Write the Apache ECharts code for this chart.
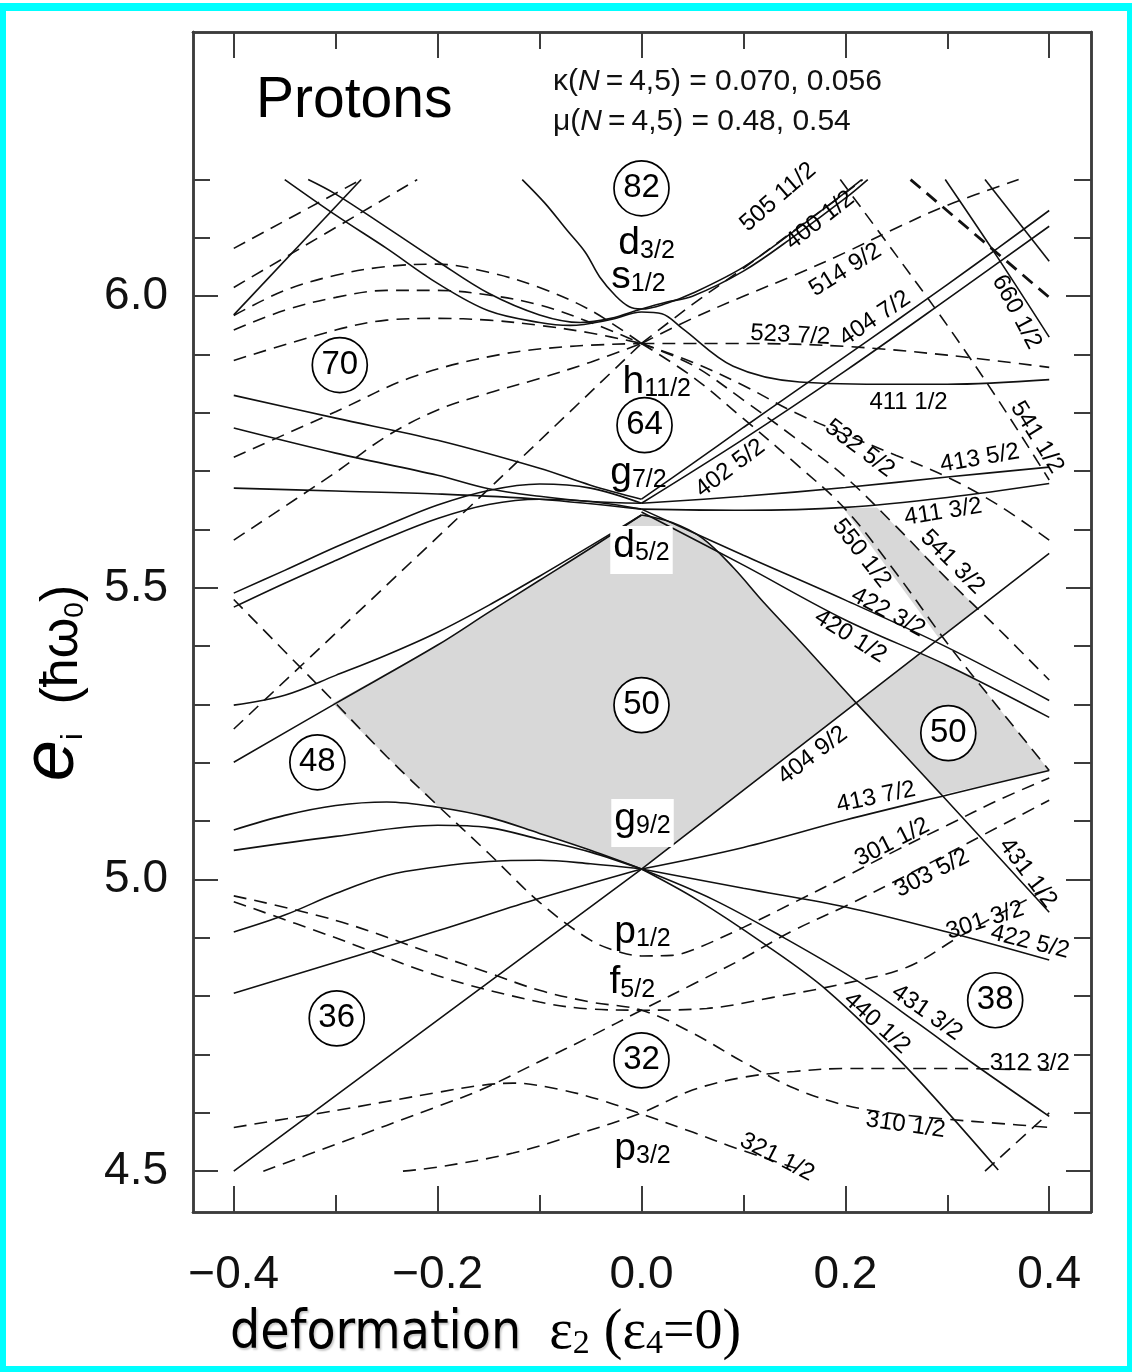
<!DOCTYPE html>
<html>
<head>
<meta charset="utf-8">
<script src="https://cdn.jsdelivr.net/npm/echarts@6/dist/echarts.min.js"></script>
<style>
html, body { margin: 0; padding: 0; background: #fff; }
#wrap { position: relative; width: 1132px; height: 1372px; overflow: hidden; }
#chart { position: absolute; left: 0; top: 0; width: 1132px; height: 1372px; }
#edge { position: absolute; left: 0; top: 3px; width: 1121px; height: 1355px;
        border-style: solid; border-color: #00ffff; border-width: 8px 5px 6px 6px; pointer-events: none; }
</style>
</head>
<body>
<div id="wrap"><div id="chart"></div><div id="edge"></div></div>
<script>
// ---- axis extent and tick positions ----
const X_MIN = -0.44, X_MAX = 0.441, Y_MIN = 4.43, Y_MAX = 6.453;
const xMajorTicks = [-0.4, -0.2, 0, 0.2, 0.4];
const xMinorTicks = [-0.3, -0.1, 0.1, 0.3];
const yMajorTicks = [4.5, 5.0, 5.5, 6.0];
const yMinorTicks = [4.6, 4.7, 4.8, 4.9, 5.1, 5.2, 5.3, 5.4, 5.6, 5.7, 5.8, 5.9, 6.1, 6.2];

// ---- single-particle levels, [eps2, e] ; positive parity (N even) ----
const lvl400_12 = [[-0.117,6.2],[-0.095,6.16],[-0.073,6.113],[-0.055,6.075],[-0.041,6.033],[-0.025,6.0],[-0.012,5.982],[0,5.978],[0.025,5.988],[0.05,6.005],[0.1,6.05],[0.15,6.112],[0.2,6.178],[0.216,6.2]];
const lvl411_12 = [[-0.35,6.2],[-0.3,6.139],[-0.25,6.082],[-0.2,6.022],[-0.15,5.975],[-0.1,5.955],[-0.07,5.95],[-0.03,5.96],[0,5.973],[0.02,5.97],[0.04,5.945],[0.09,5.88],[0.155,5.853],[0.25,5.849],[0.3,5.849],[0.4,5.857]];
const lvlS12b   = [[-0.327,6.2],[-0.3,6.175],[-0.25,6.118],[-0.2,6.06],[-0.15,6.005],[-0.1,5.968],[-0.06,5.955],[-0.03,5.962],[0,5.978],[0.025,5.99],[0.05,6.0],[0.1,6.043],[0.15,6.103],[0.2,6.168],[0.222,6.2]];
const lvlRise   = [[-0.4,5.968],[-0.275,6.2]];
const lvl660_12 = [[0.298,6.2],[0.35,6.065],[0.4,5.93]];
const lvl651_32 = [[0.337,6.2],[0.4,6.06]];
const lvl404_72 = [[0,5.652],[0.05,5.713],[0.1,5.775],[0.15,5.836],[0.2,5.897],[0.25,5.958],[0.3,6.02],[0.35,6.083],[0.4,6.147]];
const lvl402_52 = [[0,5.645],[0.1,5.755],[0.2,5.872],[0.3,5.995],[0.4,6.12]];
const lvl413_52 = [[0,5.645],[0.1,5.657],[0.2,5.672],[0.3,5.69],[0.4,5.707]];
const lvl411_32 = [[0,5.635],[0.1,5.633],[0.2,5.638],[0.3,5.655],[0.4,5.679]];
const lvl422_32 = [[0,5.635],[0.1,5.556],[0.2,5.479],[0.3,5.398],[0.4,5.307]];
const lvl420_12 = [[0,5.63],[0.1,5.539],[0.2,5.445],[0.3,5.367],[0.4,5.278]];
const lvl431_12 = [[0,5.625],[0.03,5.612],[0.06,5.585],[0.09,5.535],[0.12,5.475],[0.16,5.4],[0.211,5.302],[0.293,5.148],[0.4,4.944]];
const lvlG7a    = [[-0.4,5.83],[-0.3,5.791],[-0.2,5.753],[-0.1,5.705],[-0.05,5.676],[0,5.652]];
const lvlG7b    = [[-0.4,5.774],[-0.3,5.731],[-0.2,5.693],[-0.15,5.67],[-0.1,5.657],[-0.05,5.648],[0,5.645]];
const lvlG7c    = [[-0.4,5.671],[-0.3,5.666],[-0.2,5.661],[-0.1,5.652],[0,5.635]];
const lvlG7d    = [[-0.4,5.491],[-0.35,5.53],[-0.3,5.57],[-0.25,5.607],[-0.2,5.642],[-0.15,5.667],[-0.1,5.678],[-0.05,5.671],[0,5.645]];
const lvlG7e    = [[-0.4,5.467],[-0.35,5.508],[-0.3,5.547],[-0.25,5.585],[-0.2,5.619],[-0.15,5.643],[-0.1,5.652],[-0.05,5.648],[0,5.635]];
const lvlD5a    = [[-0.4,5.201],[-0.3,5.302],[-0.2,5.402],[-0.15,5.458],[-0.1,5.513],[-0.05,5.568],[0,5.625]];
const lvlD5b    = [[-0.4,5.299],[-0.35,5.316],[-0.3,5.35],[-0.25,5.385],[-0.2,5.424],[-0.15,5.47],[-0.1,5.52],[-0.05,5.572],[0,5.625]];
const lvl404_92 = [[-0.4,4.5],[0,5.018],[0.4,5.559]];
const lvl413_72 = [[0,5.018],[0.1,5.055],[0.2,5.102],[0.3,5.145],[0.4,5.187]];
const lvl422_52 = [[0,5.018],[0.1,4.985],[0.2,4.953],[0.3,4.91],[0.4,4.862]];
const lvl431_32 = [[0,5.018],[0.07,4.966],[0.14,4.9],[0.211,4.827],[0.27,4.755],[0.325,4.685],[0.4,4.594]];
const lvl440_12 = [[0,5.018],[0.054,4.966],[0.12,4.89],[0.182,4.81],[0.26,4.678],[0.35,4.502]];
const lvlG9a    = [[-0.4,5.085],[-0.35,5.11],[-0.3,5.127],[-0.25,5.133],[-0.2,5.124],[-0.15,5.107],[-0.1,5.079],[-0.05,5.05],[0,5.018]];
const lvlG9b    = [[-0.4,5.05],[-0.3,5.074],[-0.2,5.093],[-0.15,5.089],[-0.1,5.069],[-0.05,5.047],[0,5.018]];
const lvlG9c    = [[-0.4,4.91],[-0.35,4.939],[-0.3,4.976],[-0.25,5.007],[-0.2,5.022],[-0.15,5.031],[-0.1,5.033],[-0.05,5.027],[0,5.018]];
const lvlG9d    = [[-0.4,4.805],[-0.2,4.912],[-0.107,4.964],[0,5.018]];

// ---- negative parity (N odd) ----
const lvl505_112 = [[0,5.919],[0.05,5.986],[0.1,6.048],[0.15,6.113],[0.2,6.177],[0.217,6.2]];
const lvl514_92  = [[0,5.919],[0.05,5.962],[0.1,6.0],[0.15,6.036],[0.2,6.075],[0.25,6.117],[0.3,6.156],[0.37,6.2]];
const lvl523_72  = [[0,5.919],[0.1,5.919],[0.2,5.914],[0.3,5.899],[0.4,5.878]];
const lvl532_52  = [[0,5.919],[0.05,5.887],[0.1,5.847],[0.15,5.801],[0.2,5.763],[0.25,5.727],[0.3,5.69],[0.35,5.642],[0.4,5.582]];
const lvl541_32  = [[0,5.919],[0.05,5.882],[0.1,5.822],[0.15,5.758],[0.2,5.69],[0.25,5.605],[0.3,5.515],[0.35,5.43],[0.4,5.342]];
const lvl550_12  = [[0,5.919],[0.05,5.862],[0.1,5.79],[0.15,5.715],[0.2,5.635],[0.25,5.525],[0.3,5.405],[0.35,5.295],[0.4,5.187]];
const lvl541_12  = [[0.195,6.2],[0.25,6.07],[0.3,5.95],[0.35,5.822],[0.4,5.685]];
const lvl530_12  = [[0.264,6.2],[0.4,5.998]];
const lvlH11a    = [[-0.4,5.258],[-0.14,5.686],[0,5.919]];
const lvlH11b    = [[-0.4,5.582],[-0.3,5.698],[-0.25,5.76],[-0.2,5.805],[-0.15,5.834],[-0.1,5.859],[-0.05,5.887],[0,5.919]];
const lvlH11c    = [[-0.4,5.724],[-0.3,5.802],[-0.224,5.862],[-0.139,5.9],[-0.07,5.914],[0,5.919]];
const lvlH11d    = [[-0.4,5.967],[-0.35,6.01],[-0.3,6.036],[-0.25,6.051],[-0.2,6.055],[-0.15,6.041],[-0.1,6.015],[-0.05,5.976],[0,5.919]];
const lvlH11e    = [[-0.4,5.942],[-0.35,5.976],[-0.3,5.998],[-0.25,6.01],[-0.2,6.01],[-0.15,6.002],[-0.1,5.985],[-0.05,5.955],[0,5.919]];
const lvlH11f    = [[-0.4,5.89],[-0.3,5.942],[-0.25,5.959],[-0.2,5.962],[-0.15,5.959],[-0.1,5.95],[-0.05,5.937],[0,5.919]];
const lvlObA     = [[-0.4,6.082],[-0.275,6.2]];
const lvlObB     = [[-0.4,6.015],[-0.22,6.2]];
const lvl301_12  = [[-0.4,5.48],[-0.35,5.391],[-0.3,5.302],[-0.25,5.211],[-0.2,5.127],[-0.15,5.045],[-0.1,4.961],[-0.05,4.896],[-0.02,4.875],[0,4.869],[0.03,4.87],[0.05,4.879],[0.1,4.918],[0.15,4.961],[0.2,5.005],[0.25,5.05],[0.3,5.093],[0.35,5.136],[0.4,5.174]];
const lvl303_52  = [[-0.371,4.5],[-0.3,4.546],[-0.2,4.611],[-0.158,4.639],[-0.1,4.688],[-0.05,4.731],[0,4.776],[0.05,4.82],[0.1,4.865],[0.146,4.91],[0.202,4.956],[0.25,4.998],[0.325,5.067],[0.4,5.136]];
const lvl310_12  = [[-0.4,4.972],[-0.3,4.93],[-0.2,4.87],[-0.15,4.84],[-0.1,4.81],[-0.05,4.79],[0,4.776],[0.05,4.737],[0.1,4.687],[0.15,4.642],[0.2,4.613],[0.25,4.598],[0.3,4.589],[0.35,4.582],[0.4,4.575]];
const lvl301_32  = [[-0.4,4.962],[-0.3,4.9],[-0.2,4.835],[-0.1,4.79],[-0.05,4.778],[0,4.776],[0.064,4.779],[0.129,4.798],[0.2,4.822],[0.261,4.85],[0.31,4.9],[0.35,4.94],[0.4,4.985]];
const lvl312_32  = [[-0.234,4.5],[-0.2,4.507],[-0.126,4.531],[-0.06,4.565],[0,4.6],[0.05,4.639],[0.1,4.661],[0.15,4.671],[0.2,4.676],[0.3,4.676],[0.4,4.673]];
const lvl321_12  = [[-0.4,4.575],[-0.3,4.604],[-0.2,4.635],[-0.158,4.647],[-0.126,4.651],[-0.08,4.64],[-0.04,4.622],[0,4.598],[0.05,4.567],[0.09,4.541],[0.16,4.5]];
const lvl330_12  = [[0.337,4.5],[0.4,4.6]];

// ---- shell gaps (shaded) ----
const gap50 = [[0,5.625],[0.03,5.612],[0.06,5.585],[0.09,5.535],[0.12,5.475],[0.16,5.4],[0.211,5.302],[0,5.018],[-0.05,5.05],[-0.1,5.079],[-0.15,5.107],[-0.2,5.125],[-0.25,5.211],[-0.303,5.302],[-0.2,5.402],[-0.15,5.458],[-0.1,5.513],[-0.05,5.568]];
const gap50def = [[0.211,5.302],[0.273,5.388],[0.326,5.348],[0.35,5.295],[0.4,5.187],[0.293,5.145],[0.25,5.229]];
const gapStrip = [[0.198,5.637],[0.231,5.638],[0.33,5.464],[0.292,5.413]];

// ---- annotations ----
const magicNumbers = [[0,6.185,'82'],[-0.296,5.882,'70'],[0.003,5.779,'64'],[0,5.299,'50'],[0.301,5.251,'50'],[-0.318,5.201,'48'],[-0.299,4.762,'36'],[0,4.69,'32'],[0.347,4.793,'38']];
const shellNames = [['d','3/2',0.005,6.091,false],['s','1/2',-0.003,6.034,false],['h','11/2',0.015,5.854,false],['g','7/2',-0.003,5.698,false],['d','5/2',0,5.565,true],['g','9/2',0.001,5.097,true],['p','1/2',0.001,4.91,false],['f','5/2',-0.009,4.824,false],['p','3/2',0.001,4.539,false]];
const orbitNames = [
  ['505 11/2',0.134,6.17,41],['400 1/2',0.175,6.13,38],['514 9/2',0.2,6.045,32],['523 7/2',0.146,5.933,-3],
  ['404 7/2',0.229,5.962,34],['660 1/2',0.368,5.973,-62],['411 1/2',0.262,5.818,0],['541 1/2',0.388,5.758,-58],
  ['532 5/2',0.214,5.739,-37],['413 5/2',0.332,5.722,10],['402 5/2',0.087,5.705,37],['411 3/2',0.296,5.63,9],
  ['550 1/2',0.216,5.559,-52],['541 3/2',0.305,5.544,-45],['422 3/2',0.242,5.458,-28],['420 1/2',0.205,5.417,-32],
  ['404 9/2',0.168,5.213,37],['413 7/2',0.23,5.141,12],['301 1/2',0.246,5.064,27],['303 5/2',0.285,5.011,27],
  ['431 1/2',0.379,5.011,-53],['301 3/2',0.337,4.93,18],['422 5/2',0.381,4.893,-14],['431 3/2',0.28,4.772,-35],
  ['440 1/2',0.231,4.754,-42],['312 3/2',0.381,4.685,0],['310 1/2',0.259,4.579,-8],['321 1/2',0.133,4.524,-27]
];

const solidLevels = [lvl400_12, lvl411_12, lvlS12b, lvlRise, lvl660_12, lvl651_32, lvl404_72, lvl402_52, lvl413_52,
  lvl411_32, lvl422_32, lvl420_12, lvl431_12, lvlG7a, lvlG7b, lvlG7c, lvlG7d, lvlG7e, lvlD5a, lvlD5b,
  lvl413_72, lvl422_52, lvl431_32, lvl440_12, lvlG9a, lvlG9b, lvlG9c, lvlG9d];
const straightLevels = [lvl404_92];
const dashedLevels = [lvl505_112, lvl514_92, lvl523_72, lvl532_52, lvl541_32, lvl550_12, lvl541_12,
  lvlH11a, lvlH11b, lvlH11c, lvlH11d, lvlH11e, lvlH11f, lvlObA, lvlObB,
  lvl301_12, lvl303_52, lvl310_12, lvl301_32, lvl312_32, lvl321_12, lvl330_12];
const boldDashedLevels = [lvl530_12];
const gaps = [gap50, gap50def, gapStrip];

// ---- styling ----
const SANS = "'Liberation Sans', Arial, Helvetica, sans-serif";
const SERIF = "'Liberation Serif', 'Times New Roman', serif";
const INK = '#111';
const FRAME = '#3c3c3c';

function levelSeries(pts, dashed, width, smooth) {
  return {
    type: 'line', xAxisIndex: 0, yAxisIndex: 0, data: pts,
    showSymbol: false, symbol: 'none', smooth: smooth, silent: true, z: 3,
    lineStyle: { color: INK, width: width, type: dashed ? [13, 8] : 'solid' }
  };
}

function axisX(gridIndex, position, ticks, len, labels) {
  return {
    type: 'value', gridIndex, position, min: X_MIN, max: X_MAX,
    axisLine: { show: true, onZero: false, lineStyle: { color: FRAME, width: 2.5 } },
    axisTick: { show: true, inside: true, length: len, customValues: ticks, lineStyle: { color: FRAME, width: 2 } },
    axisLabel: { show: labels, customValues: ticks, margin: 40, fontFamily: SANS, fontSize: 46, color: '#111',
      formatter: v => (v < -1e-9 ? '\u2212' : '') + Math.abs(v).toFixed(1) },
    splitLine: { show: false }
  };
}
function axisY(gridIndex, position, ticks, len, labels) {
  return {
    type: 'value', gridIndex, position, min: Y_MIN, max: Y_MAX,
    axisLine: { show: true, onZero: false, lineStyle: { color: FRAME, width: 2.5 } },
    axisTick: { show: true, inside: true, length: len, customValues: ticks, lineStyle: { color: FRAME, width: 2 } },
    axisLabel: { show: labels, customValues: ticks, margin: 25, fontFamily: SANS, fontSize: 46, color: '#111',
      formatter: v => v.toFixed(1) },
    splitLine: { show: false }
  };
}

const plotRect = { left: 193, top: 32, width: 898, height: 1180 };
const series = [];

series.push({
  type: 'custom', xAxisIndex: 0, yAxisIndex: 0, silent: true, z: 1,
  data: gaps.map(g => g[0]),
  renderItem: (params, api) => ({
    type: 'polygon',
    shape: { points: gaps[params.dataIndex].map(p => api.coord(p)) },
    style: { fill: '#d8d8d8' }
  })
});
solidLevels.forEach(p => series.push(levelSeries(p, false, 1.6, 0.35)));
straightLevels.forEach(p => series.push(levelSeries(p, false, 1.6, false)));
dashedLevels.forEach(p => series.push(levelSeries(p, true, 1.6, 0.35)));
boldDashedLevels.forEach(p => series.push(levelSeries(p, true, 2.8, false)));

// orbital quantum-number labels
series.push({
  type: 'scatter', xAxisIndex: 0, yAxisIndex: 0, silent: true, z: 5,
  symbolSize: 1, itemStyle: { color: 'rgba(0,0,0,0)', opacity: 1 },
  label: { show: true, position: 'inside', formatter: '{b}', fontFamily: SANS, fontSize: 24, color: '#000' },
  data: orbitNames.map(o => ({ name: o[0], value: [o[1], o[2]], label: { rotate: o[3] } }))
});

// spherical shell labels
series.push({
  type: 'scatter', xAxisIndex: 0, yAxisIndex: 0, silent: true, z: 6,
  symbolSize: 1, itemStyle: { color: 'rgba(0,0,0,0)', opacity: 1 },
  label: {
    show: true, position: 'inside', color: '#000',
    formatter: p => '{l|' + p.data.letter + '}{s|' + p.data.sub + '}',
    rich: {
      l: { fontFamily: SANS, fontSize: 39, lineHeight: 40, verticalAlign: 'bottom', color: '#000' },
      s: { fontFamily: SANS, fontSize: 25, lineHeight: 12, verticalAlign: 'bottom', color: '#000' }
    }
  },
  data: shellNames.map(s => ({
    value: [s[2], s[3]], letter: s[0], sub: s[1],
    label: s[4] ? { backgroundColor: '#fff', padding: [0, 3, 8, 3] } : {}
  }))
});

// magic-number circles
series.push({
  type: 'scatter', xAxisIndex: 0, yAxisIndex: 0, silent: true, z: 7,
  symbol: 'circle', symbolSize: 55,
  itemStyle: { color: '#fff', borderColor: '#000', borderWidth: 1.7, opacity: 1 },
  label: { show: true, position: 'inside', formatter: p => p.value[2], fontFamily: SANS, fontSize: 33, color: '#000' },
  data: magicNumbers
});

const option = {
  animation: false,
  backgroundColor: '#fff',
  grid: [Object.assign({}, plotRect), Object.assign({}, plotRect)],
  xAxis: [
    axisX(0, 'bottom', xMajorTicks, 26, true),
    axisX(0, 'top', xMajorTicks, 26, false),
    axisX(1, 'bottom', xMinorTicks, 17, false),
    axisX(1, 'top', xMinorTicks, 17, false)
  ],
  yAxis: [
    axisY(0, 'left', yMajorTicks, 25, true),
    axisY(0, 'right', yMajorTicks, 25, false),
    axisY(1, 'left', yMinorTicks, 17, false),
    axisY(1, 'right', yMinorTicks, 17, false)
  ],
  graphic: [
    { type: 'text', x: 256, y: 101, z: 10,
      style: { text: 'Protons', fontFamily: SANS, fontSize: 57, fill: '#000', align: 'left', verticalAlign: 'middle' } },
    { type: 'text', x: 553, y: 82, z: 10,
      style: { text: '{t|\u03ba(}{i|N}{t|\u2009=\u20094,5) = 0.070, 0.056}', align: 'left', verticalAlign: 'middle',
        rich: { t: { fontFamily: SANS, fontSize: 30, fill: '#111' }, i: { fontFamily: SANS, fontSize: 30, fontStyle: 'italic', fill: '#111' } } } },
    { type: 'text', x: 553, y: 122, z: 10,
      style: { text: '{t|\u03bc(}{i|N}{t|\u2009=\u20094,5) = 0.48, 0.54}', align: 'left', verticalAlign: 'middle',
        rich: { t: { fontFamily: SANS, fontSize: 30, fill: '#111' }, i: { fontFamily: SANS, fontSize: 30, fontStyle: 'italic', fill: '#111' } } } },
    { type: 'text', x: 54, y: 683, rotation: Math.PI / 2, z: 10,
      style: { text: '{e|e}{i|i}{t|  (\u0127\u03c9}{o|0}{t|)}', align: 'center', verticalAlign: 'middle',
        rich: {
          e: { fontFamily: SANS, fontStyle: 'italic', fontSize: 74, lineHeight: 70, verticalAlign: 'bottom', fill: '#000' },
          i: { fontFamily: SANS, fontSize: 30, lineHeight: 18, verticalAlign: 'bottom', fill: '#000' },
          t: { fontFamily: SANS, fontSize: 52, lineHeight: 66, verticalAlign: 'bottom', fill: '#000' },
          o: { fontFamily: SANS, fontSize: 28, lineHeight: 16, verticalAlign: 'bottom', fill: '#000' }
        } } },
    { type: 'text', x: 230, y: 1330, z: 10,
      style: { text: '{d|deformation}{g|  \u03b5}{s|2}{g| (\u03b5}{s|4}{g|=0)}', align: 'left', verticalAlign: 'middle',
        rich: {
          d: { fontFamily: "'Liberation Sans Narrow', 'DejaVu Sans Condensed', " + SANS, fontSize: 53, lineHeight: 62, verticalAlign: 'bottom', fill: '#000',
               textShadowColor: 'rgba(0,0,0,0.22)', textShadowBlur: 2, textShadowOffsetX: 1.5, textShadowOffsetY: 1.5 },
          g: { fontFamily: SERIF, fontSize: 56, lineHeight: 62, verticalAlign: 'bottom', fill: '#000' },
          s: { fontFamily: SERIF, fontSize: 34, lineHeight: 22, verticalAlign: 'bottom', fill: '#000' }
        } } }
  ],
  series: series
};

const chart = echarts.init(document.getElementById('chart'), null, { renderer: 'canvas' });
chart.setOption(option);
</script>
</body>
</html>
